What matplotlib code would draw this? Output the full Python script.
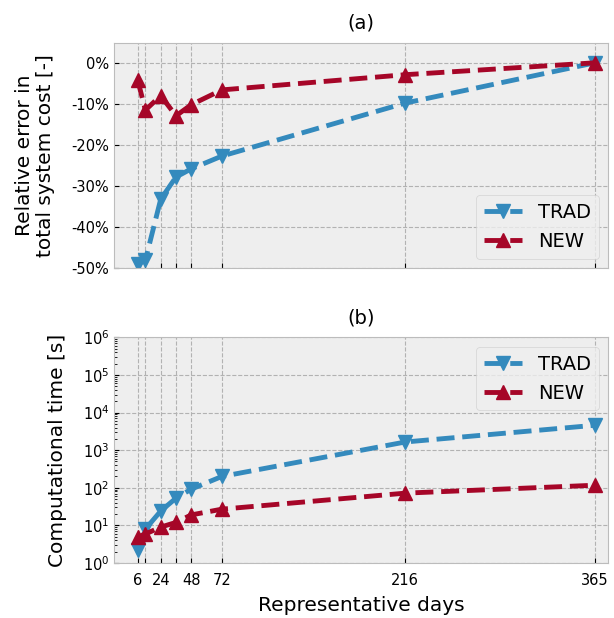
import matplotlib
matplotlib.use("Agg")
import matplotlib.pyplot as plt
from matplotlib.ticker import FuncFormatter, FixedLocator, LogLocator

# representative days
days = [6, 12, 24, 36, 48, 72, 216, 365]
tick_labels = ['6', '', '24', '', '48', '72', '216', '365']

# relative error in total system cost [%]
err_trad = [-49.0, -48.0, -33.2, -27.8, -25.8, -22.7, -9.8, 0.0]
err_new = [-4.3, -11.5, -8.0, -12.9, -10.2, -6.6, -2.9, 0.0]

# computational time [s]
time_trad = [2.2, 8, 24, 53, 92, 200, 1650, 4600]
time_new = [4.9, 5.9, 9, 12, 19, 27, 72, 117]

plt.style.use('bmh')
plt.rcParams['mathtext.fontset'] = 'dejavusans'
plt.rcParams['font.family'] = 'DejaVu Sans'

fig, (ax1, ax2) = plt.subplots(2, 1, figsize=(6.14, 6.18), dpi=100)
fig.subplots_adjust(left=0.186, right=0.991, top=0.931, bottom=0.089, hspace=0.306)

style = dict(linestyle='--', linewidth=3.5, markersize=10)

# (a) relative error
ax1.plot(days, err_trad, marker='v', color='#348ABD', label='TRAD', **style)
ax1.plot(days, err_new, marker='^', color='#A60628', label='NEW', **style)
ax1.set_ylim(-50, 4.9)
ax1.set_yticks([0, -10, -20, -30, -40, -50])
ax1.yaxis.set_major_formatter(FuncFormatter(lambda v, pos: '%d%%' % round(v)))
ax1.set_ylabel('Relative error in\ntotal system cost [-]', fontsize=14.5,
               labelpad=12, linespacing=1.1)
ax1.set_title('(a)', fontsize=14, pad=10)
ax1.legend(loc='lower right', fontsize=14)

# (b) computational time
ax2.plot(days, time_trad, marker='v', color='#348ABD', label='TRAD', **style)
ax2.plot(days, time_new, marker='^', color='#A60628', label='NEW', **style)
ax2.set_yscale('log')
ax2.set_ylim(1, 1e6)
ax2.yaxis.set_major_locator(LogLocator(base=10, numticks=10))
ax2.yaxis.set_minor_locator(LogLocator(base=10, subs=range(2, 10), numticks=20))
ax2.set_ylabel('Computational time [s]', fontsize=14.5, labelpad=11)
ax2.set_xlabel('Representative days', fontsize=14.5, labelpad=6)
ax2.set_title('(b)', fontsize=14, pad=10)
ax2.legend(loc='upper right', fontsize=14)

for ax in (ax1, ax2):
    ax.set_xlim(-12.5, 375.5)
    ax.xaxis.set_major_locator(FixedLocator(days))
    ax.tick_params(labelsize=10.5, color='black')
    ax.tick_params(axis='x', pad=7)
    ax.tick_params(which='minor', color='black')
    ax.grid(True, which='major', color='#b2b2b2', linestyle='--', linewidth=0.8)
ax1.set_xticklabels([''] * len(days))
ax2.set_xticklabels(tick_labels)

fig.savefig('out.png', dpi=100)
